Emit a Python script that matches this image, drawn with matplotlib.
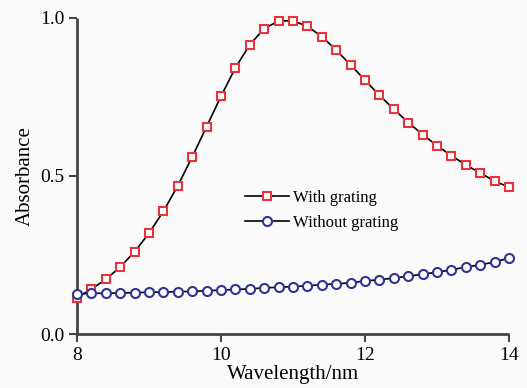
import numpy as np
import matplotlib.pyplot as plt

#data
wavelength = [8.0, 8.2, 8.4, 8.6, 8.8, 9.0, 9.2, 9.4, 9.6, 9.8,
              10.0, 10.2, 10.4, 10.6, 10.8, 11.0, 11.2, 11.4, 11.6, 11.8,
              12.0, 12.2, 12.4, 12.6, 12.8, 13.0, 13.2, 13.4, 13.6, 13.8, 14.0]
with_grating = [0.115, 0.142, 0.173, 0.212, 0.260, 0.319, 0.388, 0.469, 0.560, 0.656,
                0.752, 0.842, 0.915, 0.966, 0.990, 0.991, 0.973, 0.941, 0.898, 0.851,
                0.803, 0.755, 0.711, 0.669, 0.631, 0.596, 0.564, 0.535, 0.509, 0.484, 0.464]
without_grating = [0.127, 0.129, 0.129, 0.130, 0.131, 0.132, 0.133, 0.134, 0.135, 0.137,
                   0.139, 0.141, 0.143, 0.146, 0.148, 0.150, 0.153, 0.156, 0.159, 0.162,
                   0.168, 0.172, 0.177, 0.183, 0.189, 0.196, 0.203, 0.212, 0.219, 0.228, 0.240]
x_ticks = [8, 10, 12, 14]
y_ticks = [0.0, 0.5, 1.0]

plt.rcParams['font.family'] = ['Liberation Serif', 'DejaVu Serif']

fig = plt.figure(figsize=(5.27, 3.88), dpi=100, facecolor='#fafafa')
ax = fig.add_axes([0.146, 0.139, 0.820, 0.815])
ax.set_facecolor('#fafafa')

ax.plot(wavelength, with_grating, color='black', lw=1.2, marker='s', ms=6,
        mfc='white', mec='#e8333b', mew=1.5, label='With grating', zorder=3, clip_on=False)
ax.plot(wavelength, without_grating, color='black', lw=1.2, marker='o', ms=6.5,
        mfc='white', mec='#2e3592', mew=1.5, label='Without grating', zorder=3, clip_on=False)

ax.set_xlim(8, 14)
ax.set_ylim(0, 1.0)
ax.set_xticks(x_ticks)
ax.set_yticks(y_ticks)
ax.set_yticklabels(['0.0', '0.5', '1.0'])
ax.set_xlabel('Wavelength/nm', fontsize=15, labelpad=1)
ax.set_ylabel('Absorbance', fontsize=15, labelpad=4)

for s in ['top', 'right']:
    ax.spines[s].set_visible(False)
for s in ['left', 'bottom']:
    ax.spines[s].set_linewidth(2)
    ax.spines[s].set_color('#444444')
    ax.spines[s].set_capstyle('butt')
ax.tick_params(direction='out', length=6, width=1.5, color='#444444', labelsize=14, pad=3)

ax.legend(loc='center left', bbox_to_anchor=(0.355, 0.39), frameon=False, fontsize=12,
          handlelength=2.6, handletextpad=0.25, labelspacing=0.55)

fig.savefig('out.png', dpi=100, facecolor=fig.get_facecolor())
